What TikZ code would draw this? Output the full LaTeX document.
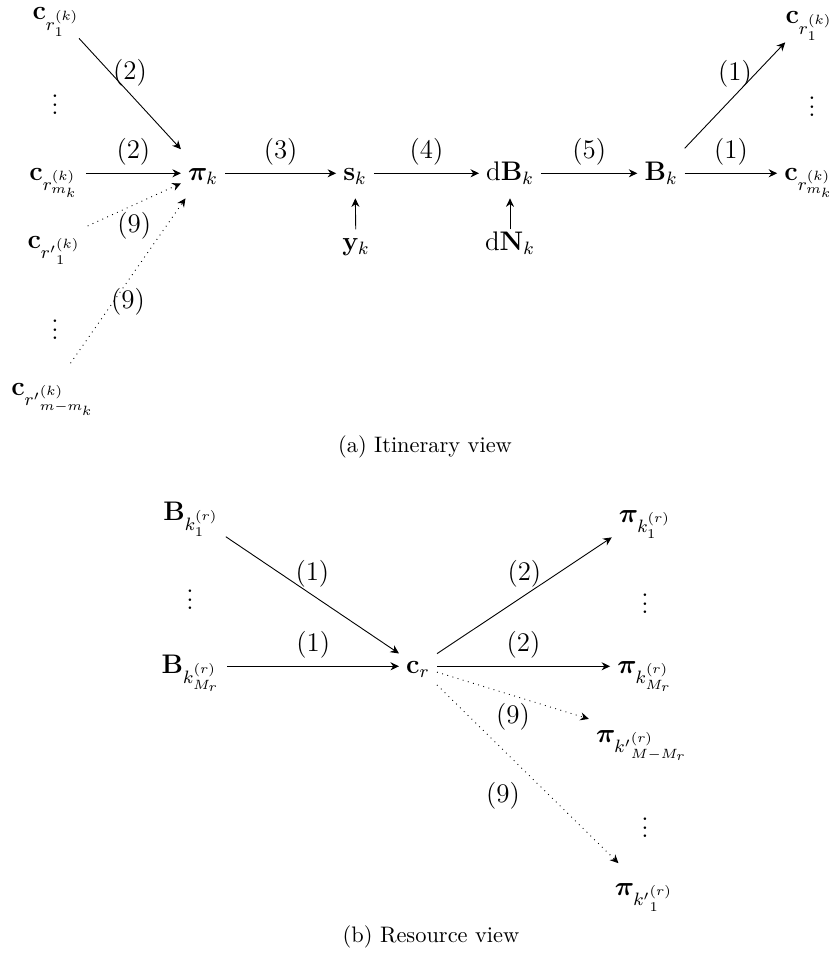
\documentclass[tikz,border=0pt]{standalone}
\usepackage{amsmath,amssymb}
\usepackage{bm}
\usetikzlibrary{arrows.meta}

\begin{document}
\begin{tikzpicture}[
    x=0.4464pt, y=-0.4464pt,
    font=\large,
    var/.style={inner sep=3pt, text height=11pt, text depth=5pt, anchor=base},
    lowvar/.style={var, text height=6pt},
    dots/.style={inner sep=0pt},
    caption/.style={font=\normalsize},
    arrow/.style={-{Stealth[length=3.8pt, width=3.6pt]}},
    hidden/.style={arrow, dotted},
]
\useasboundingbox (0,0) rectangle (837,954);

% (a) Itinerary view: incoming resources
\node[var] (cA1) at (56,20) {$\mathbf{c}_{r_1^{(k)}}$};
\node[dots] (dA) at (55,98) {$\vdots$};
\node[var] (cAm) at (54,180) {$\mathbf{c}_{r_{m_k}^{(k)}}$};
\node[var] (cB1) at (54,248) {$\mathbf{c}_{{r'}_1^{(k)}}$};
\node[dots] (dB) at (55,323) {$\vdots$};
\node[var] (cBm) at (53,395) {$\mathbf{c}_{{r'}_{m-m_k}^{(k)}}$};

% main row
\node[var] (pik) at (203,180) {$\bm{\pi}_k$};
\node[var] (sk) at (355,180) {$\mathbf{s}_k$};
\node[var] (dBk) at (510,180) {$\mathrm{d}\mathbf{B}_k$};
\node[var] (Bk) at (661,180) {$\mathbf{B}_k$};
\node[lowvar] (yk) at (356,250) {$\mathbf{y}_k$};
\node[lowvar] (dNk) at (510,250) {$\mathrm{d}\mathbf{N}_k$};

% outgoing resources
\node[var] (cR1) at (809,24) {$\mathbf{c}_{r_1^{(k)}}$};
\node[dots] (dR) at (812,100) {$\vdots$};
\node[var] (cRm) at (809,180) {$\mathbf{c}_{r_{m_k}^{(k)}}$};

% arrows (a)
\draw[arrow] (cA1) -- node[above] {(2)} (pik);
\draw[arrow] (cAm) -- node[above] {(2)} (pik);
\draw[hidden] (cB1) -- node[below] {(9)} (pik);
\draw[hidden] (cBm) -- node[below] {(9)} (pik);
\draw[arrow] (pik) -- node[above] {(3)} (sk);
\draw[arrow] (sk) -- node[above] {(4)} (dBk);
\draw[arrow] (dBk) -- node[above] {(5)} (Bk);
\draw[arrow] (yk) -- (sk);
\draw[arrow] (dNk) -- (dBk);
\draw[arrow] (Bk) -- node[above] {(1)} (cR1);
\draw[arrow] (Bk) -- node[above] {(1)} (cRm);

\node[caption] (capA) at (425,447) {(a) Itinerary view};

% (b) Resource view
\node[var] (Bb1) at (191,520) {$\mathbf{B}_{k_1^{(r)}}$};
\node[dots] (dBb) at (190,593) {$\vdots$};
\node[var] (BbM) at (191,673) {$\mathbf{B}_{k_{M_r}^{(r)}}$};
\node[var] (cr) at (418,673) {$\mathbf{c}_r$};
\node[var] (pib1) at (645,522) {$\bm{\pi}_{k_1^{(r)}}$};
\node[dots] (dpb) at (645,597) {$\vdots$};
\node[var] (pibM) at (645,673) {$\bm{\pi}_{k_{M_r}^{(r)}}$};
\node[var] (pic1) at (642,742) {$\bm{\pi}_{{k'}_{M-M_r}^{(r)}}$};
\node[dots] (dpc) at (645,821) {$\vdots$};
\node[var] (pic2) at (644,895) {$\bm{\pi}_{{k'}_1^{(r)}}$};

% arrows (b)
\draw[arrow] (Bb1) -- node[above] {(1)} (cr);
\draw[arrow] (BbM) -- node[above] {(1)} (cr);
\draw[arrow] (cr) -- node[above] {(2)} (pib1);
\draw[arrow] (cr) -- node[above] {(2)} (pibM);
\draw[hidden] (cr) -- node[below] {(9)} (pic1);
\draw[hidden] (cr) -- node[below left] {(9)} (pic2);

\node[caption] (capB) at (431,937) {(b) Resource view};
\end{tikzpicture}
\end{document}
